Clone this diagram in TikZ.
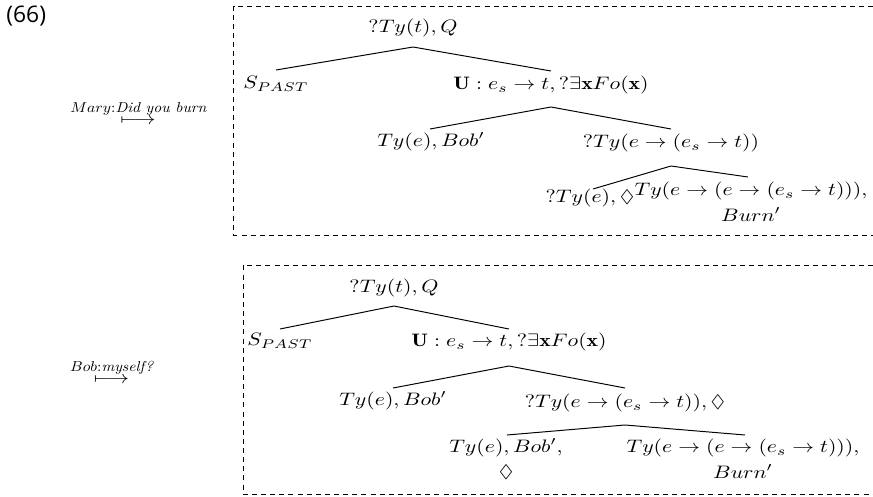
\documentclass[tikz,border=0pt]{standalone}
\usepackage{amssymb}
\usepackage{graphicx}
\usepackage{fontspec}
\newfontfamily\labelsans{Open Sans}
\newcommand{\hstr}[1]{\scalebox{1}[0.83]{#1}}
\newcommand{\lstr}[1]{\scalebox{0.72}[0.66]{#1}}
\begin{document}
\begin{tikzpicture}[x=0.46pt, y=-0.46pt,
  txt/.style={inner sep=0pt, font=\fontsize{10}{11.7}\selectfont},
  lbl/.style={inner sep=0pt, font=\fontsize{10}{12}\selectfont},
  branch/.style={line width=0.45pt},
  frame/.style={line width=0.45pt, dash pattern=on 2.3pt off 1.9pt}]
\useasboundingbox (0,0) rectangle (873,497);

% example number
\node[inner sep=0pt, anchor=west, font=\fontsize{10.5}{12}\labelsans] (num) at (6,16.5) {(66)};

% transition labels
\node[lbl, anchor=base] (mary) at (138.5,112) {\lstr{$Mary$:\textit{Did you burn}}};
\node[txt] (maryarr) at (138,121) {\hstr{$\longmapsto$}};
\node[lbl, anchor=base] (bob) at (112,371) {\lstr{$Bob$:\textit{myself?}}};
\node[txt] (bobarr) at (111.5,380) {\hstr{$\longmapsto$}};

% frames (open on the right)
\draw[frame] (873,6) -| (233.5,235) -- (873,235);
\draw[frame] (873,265) -| (243.5,494.5) -- (873,494.5);

% ---------- top tree ----------
\node[txt] (r1) at (413,28) {\hstr{$?Ty(t), Q$}};
\node[txt] (s1) at (276,84) {\hstr{$S_{PAST}$}};
\node[txt] (u1) at (551,85) {\hstr{$\mathbf{U}: e_s \rightarrow t, ?\exists \mathbf{x} Fo(\mathbf{x})$}};
\node[txt] (b1) at (431,142) {\hstr{$Ty(e), Bob'$}};
\node[txt] (p1) at (671,143) {\hstr{$?Ty(e \rightarrow (e_s \rightarrow t))$}};
\node[txt] (q1) at (590,198) {\hstr{$?Ty(e), \Diamond$}};
\node[txt, align=center, anchor=north] (t1) at (751,182) {\hstr{$Ty(e \rightarrow (e \rightarrow (e_s \rightarrow t))),$}\\ \hstr{$Burn'$}};

\coordinate (r1d) at (413,47);
\coordinate (s1u) at (276,70);
\coordinate (u1u) at (551,71);
\coordinate (u1d) at (551,107);
\coordinate (b1u) at (430,129);
\coordinate (p1u) at (671,129);
\coordinate (p1d) at (671,166);
\coordinate (q1u) at (593,189);
\coordinate (t1u) at (748,177);

\draw[branch] (s1u) -- (r1d) -- (u1u);
\draw[branch] (b1u) -- (u1d) -- (p1u);
\draw[branch] (q1u) -- (p1d) -- (t1u);

% ---------- bottom tree ----------
\node[txt] (r2) at (394,288) {\hstr{$?Ty(t), Q$}};
\node[txt] (s2) at (280,341) {\hstr{$S_{PAST}$}};
\node[txt] (u2) at (509,342) {\hstr{$\mathbf{U}: e_s \rightarrow t, ?\exists \mathbf{x} Fo(\mathbf{x})$}};
\node[txt] (b2) at (393,401) {\hstr{$Ty(e), Bob'$}};
\node[txt] (p2) at (625,403) {\hstr{$?Ty(e \rightarrow (e_s \rightarrow t)), \Diamond$}};
\node[txt, align=center, anchor=north] (c2) at (506,438) {\hstr{$Ty(e), Bob',$}\\ \hstr{$\Diamond$}};
\node[txt, align=center, anchor=north] (t2) at (743,439) {\hstr{$Ty(e \rightarrow (e \rightarrow (e_s \rightarrow t))),$}\\ \hstr{$Burn'$}};

\coordinate (r2d) at (394,306);
\coordinate (s2u) at (280,329);
\coordinate (u2u) at (509,329);
\coordinate (u2d) at (509,366);
\coordinate (b2u) at (393,388);
\coordinate (p2u) at (625,388);
\coordinate (p2d) at (625,425);
\coordinate (c2u) at (507,435);
\coordinate (t2u) at (745,435);

\draw[branch] (s2u) -- (r2d) -- (u2u);
\draw[branch] (b2u) -- (u2d) -- (p2u);
\draw[branch] (c2u) -- (p2d) -- (t2u);
\end{tikzpicture}
\end{document}
